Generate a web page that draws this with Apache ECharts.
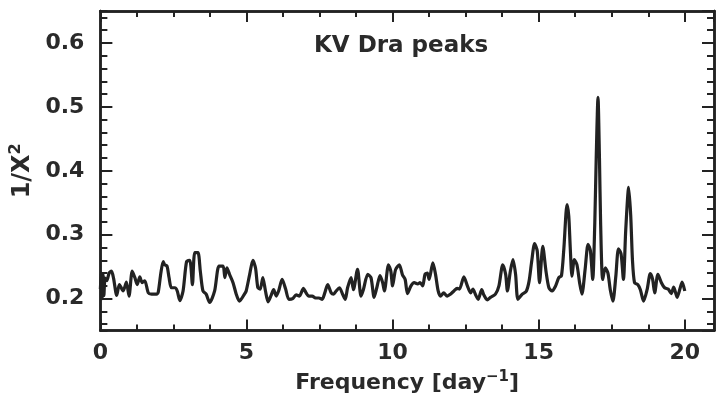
<!DOCTYPE html>
<html>
<head>
<meta charset="utf-8">
<script src="https://cdn.jsdelivr.net/npm/echarts@6/dist/echarts.min.js"></script>
<style>html,body{margin:0;padding:0;background:#fff}#c{width:716px;height:399px}</style>
</head>
<body>
<div id="c"></div>
<script>
// Frequency [day^-1]
const freq = [0.0,0.03,0.06,0.09,0.12,0.16,0.22,0.30,0.38,0.45,0.56,0.65,0.78,0.89,0.98,1.09,1.18,1.26,1.35,1.43,1.52,1.64,1.75,1.92,1.98,2.07,2.15,2.20,2.28,2.35,2.43,2.55,2.63,2.72,2.83,2.95,3.06,3.15,3.23,3.34,3.42,3.51,3.62,3.74,3.91,4.06,4.20,4.26,4.33,4.42,4.54,4.65,4.76,4.93,4.99,5.11,5.22,5.31,5.39,5.47,5.56,5.65,5.74,5.85,5.93,6.02,6.10,6.22,6.34,6.45,6.58,6.70,6.81,6.95,7.04,7.13,7.25,7.36,7.48,7.59,7.68,7.78,7.90,7.98,8.07,8.18,8.29,8.38,8.46,8.58,8.66,8.80,8.92,9.00,9.15,9.26,9.37,9.46,9.57,9.66,9.72,9.86,9.94,10.00,10.10,10.23,10.34,10.43,10.51,10.63,10.74,10.86,10.94,11.03,11.11,11.19,11.25,11.38,11.47,11.56,11.64,11.75,11.87,11.98,12.10,12.21,12.29,12.44,12.56,12.67,12.75,12.84,12.93,13.05,13.12,13.24,13.35,13.52,13.64,13.77,13.87,13.93,14.03,14.12,14.21,14.29,14.44,14.57,14.67,14.76,14.86,14.95,15.03,15.14,15.25,15.35,15.46,15.58,15.69,15.78,15.86,15.97,16.03,16.08,16.14,16.22,16.31,16.40,16.48,16.59,16.69,16.77,16.85,16.92,16.97,17.03,17.08,17.12,17.19,17.28,17.37,17.45,17.54,17.64,17.73,17.82,17.90,17.98,18.08,18.15,18.21,18.28,18.39,18.48,18.59,18.71,18.82,18.90,18.97,19.08,19.20,19.31,19.43,19.54,19.62,19.74,19.85,19.91,20.00];
// 1/chi^2
const invChi2 = [0.215,0.240,0.200,0.238,0.205,0.232,0.228,0.240,0.243,0.232,0.205,0.222,0.212,0.226,0.204,0.243,0.233,0.222,0.234,0.225,0.228,0.209,0.207,0.207,0.210,0.240,0.258,0.253,0.251,0.233,0.217,0.217,0.212,0.197,0.212,0.258,0.260,0.222,0.272,0.272,0.243,0.212,0.207,0.194,0.212,0.251,0.251,0.233,0.248,0.238,0.225,0.207,0.196,0.207,0.212,0.238,0.260,0.248,0.217,0.215,0.233,0.212,0.195,0.206,0.214,0.204,0.212,0.230,0.215,0.199,0.200,0.206,0.204,0.216,0.209,0.204,0.204,0.201,0.201,0.199,0.209,0.222,0.209,0.207,0.212,0.217,0.207,0.199,0.217,0.233,0.214,0.246,0.204,0.214,0.238,0.233,0.202,0.217,0.236,0.225,0.212,0.253,0.243,0.220,0.245,0.253,0.237,0.230,0.208,0.220,0.225,0.223,0.225,0.220,0.238,0.240,0.230,0.256,0.238,0.212,0.204,0.209,0.204,0.207,0.212,0.216,0.215,0.234,0.220,0.209,0.215,0.206,0.199,0.214,0.206,0.198,0.202,0.207,0.220,0.253,0.238,0.212,0.243,0.261,0.238,0.199,0.207,0.211,0.227,0.258,0.286,0.275,0.225,0.282,0.243,0.217,0.212,0.220,0.233,0.236,0.277,0.347,0.329,0.280,0.235,0.261,0.253,0.225,0.207,0.246,0.285,0.275,0.230,0.318,0.422,0.515,0.420,0.318,0.230,0.248,0.240,0.214,0.196,0.235,0.278,0.270,0.230,0.308,0.374,0.330,0.260,0.225,0.222,0.214,0.196,0.214,0.239,0.230,0.209,0.238,0.225,0.217,0.215,0.208,0.218,0.202,0.218,0.226,0.212];

const titleText = 'KV Dra peaks';
const xName = 'Frequency [day{sup|−1}]';
const yName = '1/X{sup|2}';

const INK = '#222';
const TXT = '#2a2a2a';
const FONT = 'DejaVu Sans';

function xAx(pos, interval, len, withLabels) {
  const a = {
    type: 'value', position: pos, min: 0, max: 21, interval: interval,
    axisLine: { show: true, onZero: false, lineStyle: { color: INK, width: 2.5 } },
    axisTick: { show: true, inside: true, length: len, lineStyle: { color: INK, width: 2 } },
    axisLabel: { show: false },
    splitLine: { show: false }
  };
  if (withLabels) {
    a.axisLabel = { show: true, margin: 12, fontSize: 22, fontWeight: 'bold', color: TXT, fontFamily: FONT, showMaxLabel: false };
    a.name = xName;
    a.nameLocation = 'middle';
    a.nameGap = 38;
    a.nameTextStyle = { fontSize: 22, fontWeight: 'bold', color: TXT, fontFamily: FONT,
      rich: { sup: { fontSize: 15, fontWeight: 'bold', color: TXT, fontFamily: FONT, padding: [0, 0, 12, 0] } } };
  }
  return a;
}
function yAx(pos, split, len, withLabels) {
  const a = {
    type: 'value', position: pos, min: 0.15, max: 0.65, splitNumber: split,
    axisLine: { show: true, onZero: false, lineStyle: { color: INK, width: 2.5 } },
    axisTick: { show: true, inside: true, length: len, lineStyle: { color: INK, width: 2 } },
    axisLabel: { show: false },
    splitLine: { show: false }
  };
  if (withLabels) {
    a.axisLabel = { show: true, margin: 16, fontSize: 22, fontWeight: 'bold', color: TXT, fontFamily: FONT,
      showMinLabel: false, showMaxLabel: false, formatter: v => v.toFixed(1) };
    a.name = yName;
    a.nameLocation = 'middle';
    a.nameGap = 56;
    a.nameTextStyle = { fontSize: 24, fontWeight: 'bold', color: TXT, fontFamily: FONT,
      rich: { sup: { fontSize: 16, fontWeight: 'bold', color: TXT, fontFamily: FONT, padding: [0, 0, 13, 0] } } };
  }
  return a;
}

const chart = echarts.init(document.getElementById('c'), null, { renderer: 'canvas' });
chart.setOption({
  animation: false,
  backgroundColor: '#fff',
  title: { text: titleText, left: 309, top: 30,
    textStyle: { fontSize: 23, fontWeight: 'bold', color: TXT, fontFamily: FONT } },
  grid: { left: 99, right: 2, top: 11, bottom: 67, containLabel: false },
  xAxis: [ xAx('bottom', 5, 11, true), xAx('bottom', 1.25, 6, false), xAx('top', 5, 11, false), xAx('top', 1.25, 6, false) ],
  yAxis: [ yAx('left', 5, 12, true), yAx('left', 25, 7, false), yAx('right', 5, 12, false), yAx('right', 25, 7, false) ],
  series: [{
    type: 'line', xAxisIndex: 0, yAxisIndex: 0,
    data: freq.map((f, i) => [f, invChi2[i]]),
    showSymbol: false, smooth: 0.25,
    lineStyle: { color: INK, width: 3.2 }
  }]
});
</script>
</body>
</html>
